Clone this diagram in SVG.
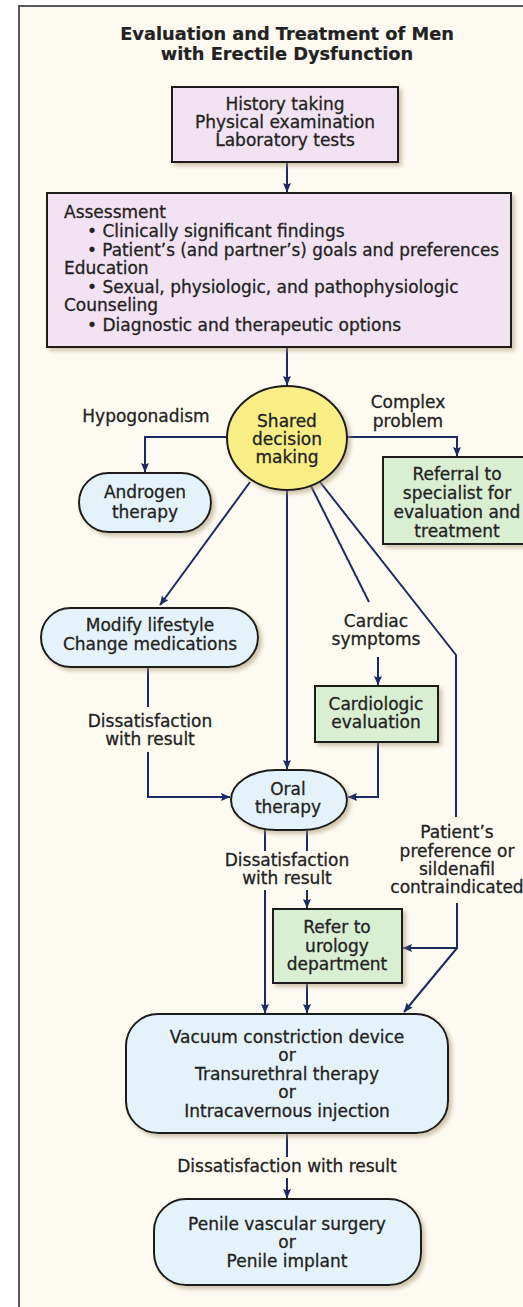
<svg xmlns="http://www.w3.org/2000/svg" width="523" height="1307" viewBox="0 0 523 1307">
<defs>
<marker id="ah" markerUnits="userSpaceOnUse" markerWidth="10" markerHeight="10" viewBox="0 0 10 10" refX="9" refY="5" orient="auto">
<path d="M0,1 L9.5,5 L0,9 L1.5,5 z" fill="#1e2b63"/>
</marker>
<filter id="sh" x="-10%" y="-10%" width="130%" height="130%">
<feDropShadow dx="3" dy="3" stdDeviation="2" flood-color="#a89570" flood-opacity="0.55"/>
</filter>
<style>
text{font-family:"DejaVu Sans","Liberation Sans",sans-serif;font-size:17px;fill:#222222;stroke:#222222;stroke-width:0.3px;}
.c{text-anchor:middle;}
.t{font-weight:bold;font-size:17.8px;stroke-width:0.2px;}
.nd{stroke:#1c1c1c;stroke-width:2;filter:url(#sh);}
.pur{fill:#f2e3f2;}
.grn{fill:#d9efd2;}
.blu{fill:#e4f3f9;}
.yel{fill:#f9ee86;}
.ln{fill:none;stroke:#1e2b63;stroke-width:2;}
.ar{marker-end:url(#ah);}
</style>
</defs>
<rect x="0" y="0" width="523" height="1307" fill="#ffffff"/>
<rect id="frame" x="19" y="6" width="530" height="1320" fill="#fdfbf1" stroke="#5a5a5a" stroke-width="2"/>
<g id="title">
<text class="c t" x="287" y="40">Evaluation and Treatment of Men</text>
<text class="c t" x="287" y="60">with Erectile Dysfunction</text>
</g>
<g id="connectors">
<line class="ln ar" x1="287" y1="162" x2="287" y2="192"/>
<line class="ln ar" x1="287" y1="347" x2="287" y2="385"/>
<path class="ln ar" d="M227,437 H145 V472"/>
<path class="ln ar" d="M347,437 H457 V456"/>
<line class="ln ar" x1="250" y1="482" x2="160" y2="605"/>
<path class="ln" d="M148,667 V707"/>
<path class="ln ar" d="M148,752 V797 H230"/>
<line class="ln ar" x1="287" y1="490" x2="287" y2="769"/>
<line class="ln" x1="310" y1="484" x2="369" y2="602"/>
<line class="ln ar" x1="378" y1="657" x2="378" y2="685"/>
<path class="ln ar" d="M378,742 V797 H348"/>
<path class="ln" d="M320,482 L456,655 V817"/>
<path class="ln" d="M265,828 V851"/>
<line class="ln ar" x1="265" y1="890" x2="265" y2="1013"/>
<path class="ln" d="M307,828 V851"/>
<line class="ln ar" x1="307" y1="890" x2="307" y2="908"/>
<line class="ln ar" x1="307" y1="983" x2="307" y2="1013"/>
<path class="ln ar" d="M457,903 V948 H403"/>
<line class="ln ar" x1="457" y1="948" x2="404" y2="1012"/>
<line class="ln" x1="287" y1="1133" x2="287" y2="1157"/>
<line class="ln ar" x1="287" y1="1178" x2="287" y2="1198"/>
</g>
<g id="labels">
<text class="c" x="146" y="422">Hypogonadism</text>
<text class="c" x="408" y="408">Complex</text>
<text class="c" x="408" y="427">problem</text>
<text class="c" x="150" y="727">Dissatisfaction</text>
<text class="c" x="150" y="745">with result</text>
<text class="c" x="376" y="627">Cardiac</text>
<text class="c" x="376" y="645">symptoms</text>
<text class="c" x="287" y="866">Dissatisfaction</text>
<text class="c" x="287" y="884">with result</text>
<text class="c" x="457" y="838">Patient’s</text>
<text class="c" x="457" y="857">preference or</text>
<text class="c" x="457" y="875">sildenafil</text>
<text class="c" x="457" y="893">contraindicated</text>
<text class="c" x="287" y="1172">Dissatisfaction with result</text>
</g>
<g id="history">
<rect class="nd pur" x="172" y="87" width="226" height="75"/>
<text class="c" x="285" y="110">History taking</text>
<text class="c" x="285" y="128">Physical examination</text>
<text class="c" x="285" y="146">Laboratory tests</text>
</g>
<g id="assessment">
<rect class="nd pur" x="47" y="193" width="464" height="154"/>
<text x="64" y="218">Assessment</text>
<text x="87" y="237">• Clinically significant findings</text>
<text x="87" y="256" textLength="412" lengthAdjust="spacingAndGlyphs">• Patient’s (and partner’s) goals and preferences</text>
<text x="64" y="274">Education</text>
<text x="87" y="293">• Sexual, physiologic, and pathophysiologic</text>
<text x="64" y="311">Counseling</text>
<text x="87" y="331">• Diagnostic and therapeutic options</text>
</g>
<g id="shared">
<ellipse class="nd yel" cx="287" cy="438" rx="60" ry="52"/>
<text class="c" x="287" y="427">Shared</text>
<text class="c" x="287" y="445">decision</text>
<text class="c" x="287" y="463">making</text>
</g>
<g id="androgen">
<rect class="nd blu" x="79" y="473" width="132" height="59" rx="29.5"/>
<text class="c" x="145" y="498">Androgen</text>
<text class="c" x="145" y="518">therapy</text>
</g>
<g id="referral">
<rect class="nd grn" x="383" y="457" width="150" height="87"/>
<text class="c" x="457" y="480">Referral to</text>
<text class="c" x="457" y="499">specialist for</text>
<text class="c" x="457" y="518">evaluation and</text>
<text class="c" x="457" y="537">treatment</text>
</g>
<g id="modify">
<rect class="nd blu" x="41" y="608" width="217" height="59" rx="29.5"/>
<text class="c" x="150" y="631">Modify lifestyle</text>
<text class="c" x="150" y="650">Change medications</text>
</g>
<g id="cardiologic">
<rect class="nd grn" x="315" y="686" width="123" height="56"/>
<text class="c" x="376" y="710">Cardiologic</text>
<text class="c" x="376" y="728">evaluation</text>
</g>
<g id="oral">
<rect class="nd blu" x="231" y="770" width="116" height="60" rx="45" ry="30"/>
<text class="c" x="288" y="795">Oral</text>
<text class="c" x="288" y="813">therapy</text>
</g>
<g id="urology">
<rect class="nd grn" x="273" y="909" width="129" height="74"/>
<text class="c" x="337" y="933">Refer to</text>
<text class="c" x="337" y="952">urology</text>
<text class="c" x="337" y="970">department</text>
</g>
<g id="vacuum">
<rect class="nd blu" x="126" y="1014" width="322" height="119" rx="32"/>
<text class="c" x="287" y="1043">Vacuum constriction device</text>
<text class="c" x="287" y="1061">or</text>
<text class="c" x="287" y="1080">Transurethral therapy</text>
<text class="c" x="287" y="1098">or</text>
<text class="c" x="287" y="1117">Intracavernous injection</text>
</g>
<g id="penile">
<rect class="nd blu" x="154" y="1199" width="267" height="86" rx="32"/>
<text class="c" x="287" y="1230">Penile vascular surgery</text>
<text class="c" x="287" y="1248">or</text>
<text class="c" x="287" y="1267">Penile implant</text>
</g>
</svg>
